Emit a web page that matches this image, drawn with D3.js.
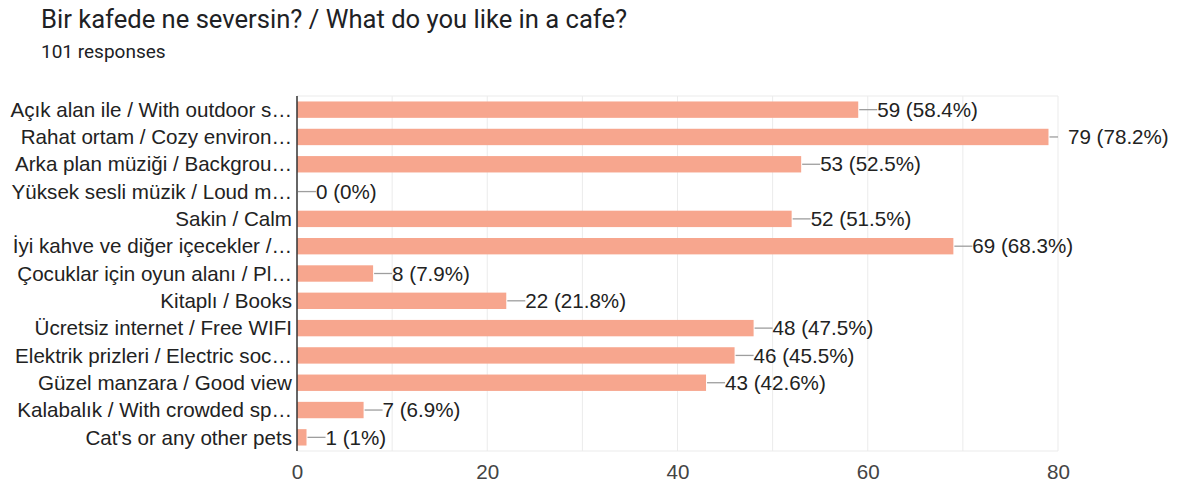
<!DOCTYPE html>
<html>
<head>
<meta charset="utf-8">
<script src="https://cdn.jsdelivr.net/npm/d3@7"></script>
<style>
  body { margin: 0; background: #fff; }
  svg { display: block; font-family: "Liberation Sans", Arial, sans-serif; }
</style>
</head>
<body>
<svg id="chart" width="1179" height="488"></svg>
<script>
// data
const categories = [
  "Açık alan ile / With outdoor s…",
  "Rahat ortam / Cozy environ…",
  "Arka plan müziği / Backgrou…",
  "Yüksek sesli müzik / Loud m…",
  "Sakin / Calm",
  "İyi kahve ve diğer içecekler /…",
  "Çocuklar için oyun alanı / Pl…",
  "Kitaplı / Books",
  "Ücretsiz internet / Free WIFI",
  "Elektrik prizleri / Electric soc…",
  "Güzel manzara / Good view",
  "Kalabalık / With crowded sp…",
  "Cat's or any other pets"
];
const counts = [59, 79, 53, 0, 52, 69, 8, 22, 48, 46, 43, 7, 1];
const percents = ["58.4%", "78.2%", "52.5%", "0%", "51.5%", "68.3%", "7.9%", "21.8%", "47.5%", "45.5%", "42.6%", "6.9%", "1%"];
const tickValues = [0, 20, 40, 60, 80];
const gridValues = [10, 20, 30, 40, 50, 60, 70, 80];

const svg = d3.select('#chart');
const margin = {left: 297, right: 121, top: 96, bottom: 37};
const W = 1179, H = 488;
const fs = 20.6;
const plotRight = W - margin.right;

svg.append('text').attr('x', 41).attr('y', 28)
  .attr('font-size', 25.6).attr('fill', '#202124')
  .attr('font-family', 'Roboto, sans-serif')
  .text('Bir kafede ne seversin? / What do you like in a cafe?');
svg.append('text').attr('x', 41).attr('y', 58)
  .attr('font-size', 19).attr('fill', '#202124')
  .attr('font-family', 'Roboto, sans-serif')
  .text('101 responses');

const x = d3.scaleLinear().domain([0, 80]).range([margin.left, plotRight]);
const y = d3.scaleBand().domain(categories)
  .range([margin.top, H - margin.bottom]).paddingInner(0.4).paddingOuter(0.2);

// grid
svg.append('g').selectAll('line').data(gridValues).join('line')
  .attr('x1', d => x(d)).attr('x2', d => x(d))
  .attr('y1', margin.top).attr('y2', H - margin.bottom)
  .attr('stroke', '#ebebeb').attr('stroke-width', 1);
svg.append('line')
  .attr('x1', margin.left).attr('x2', plotRight)
  .attr('y1', margin.top).attr('y2', margin.top)
  .attr('stroke', '#ebebeb');
svg.append('line')
  .attr('x1', margin.left).attr('x2', plotRight)
  .attr('y1', H - margin.bottom).attr('y2', H - margin.bottom)
  .attr('stroke', '#ebebeb');

// bars
svg.append('g').selectAll('rect').data(counts).join('rect')
  .attr('x', x(0))
  .attr('y', (d, i) => y(categories[i]))
  .attr('width', d => x(d) - x(0))
  .attr('height', y.bandwidth())
  .attr('fill', '#f7a68e');

// value labels with leader lines (a label that would cross the plot edge sits past it)
const crosses = d => x(d) + 19 > plotRight;
const lab = svg.append('g').selectAll('g').data(counts).join('g')
  .attr('transform', (d, i) => `translate(${x(d)},${y(categories[i]) + y.bandwidth() / 2})`);
lab.append('line').attr('x1', 1)
  .attr('x2', d => crosses(d) ? plotRight - x(d) : 19)
  .attr('y1', 0).attr('y2', 0)
  .attr('stroke', '#9e9e9e').attr('stroke-width', 1.3);
lab.append('text')
  .attr('x', d => crosses(d) ? plotRight + 10 - x(d) : 19)
  .attr('dy', '0.35em')
  .attr('font-size', fs).attr('fill', '#222')
  .text((d, i) => `${d} (${percents[i]})`);

// category labels
svg.append('g').selectAll('text').data(categories).join('text')
  .attr('x', margin.left - 5)
  .attr('y', d => y(d) + y.bandwidth() / 2)
  .attr('dy', '0.35em').attr('text-anchor', 'end')
  .attr('font-size', fs).attr('fill', '#222')
  .text(d => d);

// x axis labels
const xAxis = svg.append('g')
  .attr('transform', `translate(0,${H - margin.bottom})`)
  .call(d3.axisBottom(x).tickValues(tickValues).tickSize(0).tickPadding(13));
xAxis.select('.domain').remove();
xAxis.selectAll('text').attr('font-size', fs).attr('fill', '#444')
  .attr('font-family', '"Liberation Sans", Arial, sans-serif');

// baseline
svg.append('line')
  .attr('x1', margin.left).attr('x2', margin.left)
  .attr('y1', margin.top).attr('y2', H - margin.bottom)
  .attr('stroke', '#333').attr('stroke-width', 1.5);
</script>
</body>
</html>
